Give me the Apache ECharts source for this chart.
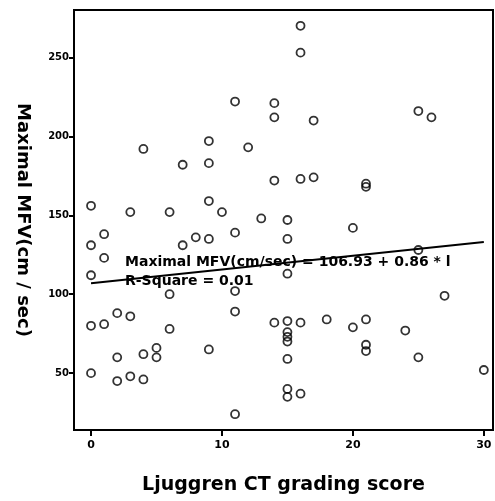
<!DOCTYPE html>
<html>
<head>
<meta charset="utf-8">
<script src="https://cdn.jsdelivr.net/npm/echarts@6/dist/echarts.min.js"></script>
<style>
  html, body { margin: 0; padding: 0; background: #fff; }
  #chart { width: 495px; height: 501px; }
</style>
</head>
<body>
<div id="chart"></div>
<script>
// Ljuggren CT score vs maximal MFV
const scoreX = [11, 14, 14, 4, 9, 12, 16, 16, 17, 25, 26, 7, 9, 14, 0, 3, 6, 9, 10, 13,
  15, 15, 1, 0, 7, 8, 9, 11, 1, 0, 16, 17, 21, 21, 20, 25, 15, 27, 6, 11,
  11, 14, 0, 1, 2, 3, 6, 5, 4, 5, 2, 9, 0, 2, 3, 4, 11, 15, 15, 15,
  15, 16, 18, 15, 15, 15, 16, 20, 21, 21, 21, 24, 25, 30];
const mfvY = [222, 221, 212, 192, 197, 193, 270, 253, 210, 216, 212, 182, 183, 172, 156, 152, 152, 159, 152, 148,
  147, 135, 138, 131, 131, 136, 135, 139, 123, 112, 173, 174, 170, 168, 142, 128, 113, 99, 100, 102,
  89, 82, 80, 81, 88, 86, 78, 66, 62, 60, 60, 65, 50, 45, 48, 46, 24, 83, 76, 73,
  70, 82, 84, 59, 40, 35, 37, 79, 84, 68, 64, 77, 60, 52];

// fit line end points as drawn
const fitX = [0, 30];
const fitY = [107, 133];

const yTicks = [50, 100, 150, 200, 250];
const xTicks = [0, 10, 20, 30];

const points = scoreX.map((x, i) => [x, mfvY[i]]);
const fit = fitX.map((x, i) => [x, fitY[i]]);

const chart = echarts.init(document.getElementById('chart'));
const boldFont = '"DejaVu Sans", "Liberation Sans", sans-serif';

chart.setOption({
  animation: false,
  backgroundColor: '#fff',
  grid: {
    left: 74, top: 10, right: 2, bottom: 71,
    show: true, borderColor: '#000', borderWidth: 2
  },
  xAxis: {
    type: 'value',
    min: -1.3, max: 30.7,
    name: 'Ljuggren CT grading score',
    nameLocation: 'middle',
    nameGap: 46,
    nameTextStyle: { fontSize: 19, fontWeight: 'bold', color: '#000', fontFamily: boldFont },
    splitLine: { show: false },
    axisLine: { onZero: false, lineStyle: { color: '#000', width: 2 } },
    axisTick: { customValues: xTicks, length: 6, lineStyle: { color: '#000', width: 2 } },
    axisLabel: { customValues: xTicks, fontSize: 11, fontWeight: 'bold', color: '#000', margin: 10, fontFamily: boldFont }
  },
  yAxis: {
    type: 'value',
    min: 14, max: 280,
    name: 'Maximal MFV(cm / sec)',
    nameLocation: 'middle',
    nameRotate: -90,
    nameGap: 42,
    nameTextStyle: { fontSize: 18, fontWeight: 'bold', color: '#000', fontFamily: boldFont },
    splitLine: { show: false },
    axisLine: { onZero: false, lineStyle: { color: '#000', width: 2 } },
    axisTick: { customValues: yTicks, length: 5, lineStyle: { color: '#000', width: 2 } },
    axisLabel: { customValues: yTicks, fontSize: 10, fontWeight: 'bold', color: '#000', margin: 5, fontFamily: boldFont }
  },
  series: [
    {
      type: 'line',
      data: fit,
      symbol: 'none',
      lineStyle: { color: '#000', width: 2 },
      z: 2
    },
    {
      type: 'scatter',
      data: points,
      symbol: 'circle',
      symbolSize: 8,
      itemStyle: { color: 'rgba(255,255,255,0)', borderColor: '#000', borderWidth: 1.8 },
      z: 3
    }
  ],
  graphic: [
    {
      type: 'text', left: 125, top: 255, z: 10,
      style: { text: 'Maximal MFV(cm/sec) = 106.93 + 0.86 * l', font: 'bold 14px ' + boldFont, fill: '#000' }
    },
    {
      type: 'text', left: 125, top: 274, z: 10,
      style: { text: 'R-Square = 0.01', font: 'bold 14px ' + boldFont, fill: '#000' }
    }
  ]
});
</script>
</body>
</html>
